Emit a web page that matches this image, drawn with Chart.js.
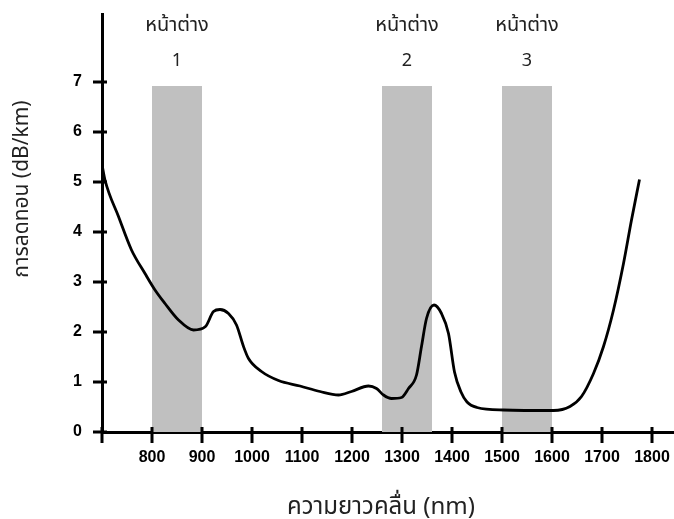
<!DOCTYPE html>
<html>
<head>
<meta charset="utf-8">
<script src="https://cdn.jsdelivr.net/npm/chart.js@4.4.1/dist/chart.umd.min.js"></script>
<style>
  html, body { margin: 0; padding: 0; background: #fff; }
  #wrap { width: 674px; height: 519px; position: relative; }
</style>
</head>
<body>
<div id="wrap"><canvas id="c"></canvas></div>
<script>
// wavelength (nm) vs attenuation (dB/km)
const wavelength = [700, 706, 733, 759, 786, 806, 826, 853, 883, 907, 923, 936, 953, 969, 983, 993,
  1019, 1053, 1096, 1136, 1173, 1199, 1233, 1249, 1263, 1279, 1299, 1313, 1329, 1339, 1349, 1364,
  1379, 1393, 1405, 1418, 1430, 1450, 1503, 1603, 1636, 1659, 1683, 1703, 1723, 1743, 1759, 1775]
const attenuation = [5.35, 5.04, 4.31, 3.64, 3.17, 2.84, 2.57, 2.24, 2.04, 2.11, 2.41, 2.45, 2.37, 2.14, 1.71, 1.47,
  1.21, 1.03, 0.92, 0.81, 0.74, 0.81, 0.92, 0.87, 0.74, 0.67, 0.69, 0.87, 1.14, 1.71, 2.27, 2.54,
  2.37, 1.97, 1.2, 0.8, 0.6, 0.49, 0.44, 0.43, 0.51, 0.71, 1.17, 1.71, 2.44, 3.37, 4.24, 5.05]

// the three low-loss windows
const windowStart = [800, 1260, 1500]
const windowEnd = [900, 1360, 1600]
const windowTop = 6.92
const windowNames = ['1', '2', '3']
const windowWord = 'หน้าต่าง'

const xTicks = [700, 800, 900, 1000, 1100, 1200, 1300, 1400, 1500, 1600, 1700, 1800]
const yTicks = [0, 1, 2, 3, 4, 5, 6, 7]

const xTitle = 'ความยาวคลื่น (nm)'
const yTitle = 'การลดทอน (dB/km)'

const thaiFont = '"Noto Sans Thai", "Noto Sans Thai UI", Tahoma, "Noto Sans", sans-serif'
const tickFont = {family: '"Liberation Sans", Arial', size: 16, weight: 'bold'}

const windowSets = windowStart.map((s, i) => ({
  data: [{x: s, y: windowTop}, {x: windowEnd[i], y: windowTop}],
  borderWidth: 0,
  pointRadius: 0,
  backgroundColor: '#c0c0c0',
  fill: 'origin',
  order: 2
}))

// tick marks crossing the axes + extra text
const decor = {
  id: 'decor',
  afterDraw(chart) {
    const ctx = chart.ctx
    const xs = chart.scales.x, ys = chart.scales.y
    const area = chart.chartArea
    ctx.save()
    ctx.strokeStyle = '#000'
    ctx.lineWidth = 3
    ctx.beginPath()
    xTicks.forEach(v => {
      const px = Math.round(xs.getPixelForValue(v))
      ctx.moveTo(px, area.bottom - 5)
      ctx.lineTo(px, area.bottom + 11)
    })
    yTicks.forEach(v => {
      const py = Math.round(ys.getPixelForValue(v))
      ctx.moveTo(area.left - 9, py)
      ctx.lineTo(area.left + 5, py)
    })
    ctx.stroke()

    ctx.fillStyle = '#222'
    ctx.textAlign = 'center'
    ctx.textBaseline = 'alphabetic'
    windowStart.forEach((s, i) => {
      const cx = xs.getPixelForValue((s + windowEnd[i]) / 2)
      ctx.font = '20px ' + thaiFont
      ctx.fillText(windowWord, cx, 31)
      ctx.font = '18px ' + thaiFont
      ctx.fillText(windowNames[i], cx, 66)
    })

    ctx.font = '24px ' + thaiFont
    ctx.fillText(xTitle, 381, 514)
    ctx.font = '21px ' + thaiFont
    ctx.textBaseline = 'middle'
    ctx.translate(24, 189)
    ctx.rotate(-Math.PI / 2)
    ctx.fillText(yTitle, 0, 0)
    ctx.restore()
  }
}

new Chart(document.getElementById('c'), {
  type: 'line',
  data: {
    datasets: [{
      data: wavelength.map((w, i) => ({x: w, y: attenuation[i]})),
      borderColor: '#000',
      borderWidth: 2.8,
      pointRadius: 0,
      fill: false,
      cubicInterpolationMode: 'monotone',
      order: 1
    }, ...windowSets]
  },
  options: {
    responsive: true,
    maintainAspectRatio: false,
    animation: false,
    layout: {padding: {top: 14, right: 0, left: 0, bottom: 0}},
    plugins: {legend: {display: false}, tooltip: {enabled: false}},
    scales: {
      x: {
        type: 'linear',
        min: 700,
        max: 1844,
        afterFit: s => { s.height = 87; s.paddingLeft = 0; s.paddingRight = 0 },
        afterBuildTicks: s => { s.ticks = xTicks.map(v => ({value: v})) },
        grid: {display: false, drawTicks: false},
        border: {display: true, color: '#000', width: 3},
        ticks: {
          color: '#000',
          padding: 16,
          maxRotation: 0,
          autoSkip: false,
          font: tickFont,
          callback: v => v === 700 ? '' : String(v)
        }
      },
      y: {
        min: 0,
        max: 8.36,
        afterFit: s => { s.width = 102; s.paddingTop = 0; s.paddingBottom = 0 },
        afterBuildTicks: s => { s.ticks = yTicks.map(v => ({value: v})) },
        grid: {display: false, drawTicks: false},
        border: {display: true, color: '#000', width: 3},
        ticks: {
          color: '#000',
          padding: 20,
          font: tickFont
        }
      }
    }
  },
  plugins: [decor]
})
</script>
</body>
</html>
